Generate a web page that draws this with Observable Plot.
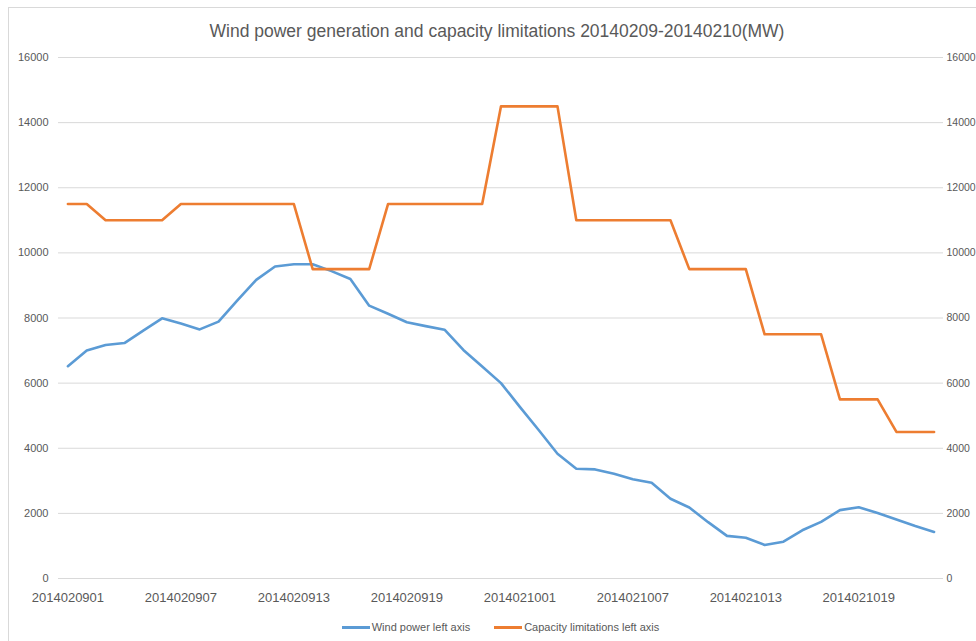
<!DOCTYPE html>
<html>
<head>
<meta charset="utf-8">
<script src="https://cdn.jsdelivr.net/npm/d3@7"></script>
<script src="https://cdn.jsdelivr.net/npm/@observablehq/plot@0.6"></script>
<style>
  html, body { margin: 0; padding: 0; background: #fff; overflow: hidden; }
  #wrap { position: relative; width: 976px; height: 641px; overflow: hidden; font-family: "Liberation Sans", Arial, sans-serif; }
  #frame { position: absolute; left: 8px; top: 7px; width: 1100px; height: 800px; border: 1px solid #d9d9d9; box-sizing: border-box; }
  #content { position: absolute; left: 0; top: 0; width: 1010px; }
  #title { width: 994px; padding-top: 20px; height: 22px; line-height: 22px; text-align: center; font-size: 17.5px; color: #595959; white-space: nowrap; }
  #legend { width: 1001px; padding-top: 12px; height: 14px; line-height: 14px; text-align: center; font-size: 11px; color: #595959; white-space: nowrap; }
  .item { display: inline-block; margin: 0 12px; }
  .sw { display: inline-block; width: 28px; height: 0; border-top: 3px solid; vertical-align: middle; margin-right: 2px; position: relative; top: -1px; }
  svg { display: block; overflow: visible; }
</style>
</head>
<body>
<div id="wrap">
  <div id="frame"></div>
  <div id="content">
    <div id="title">Wind power generation and capacity limitations 20140209-20140210(MW)</div>
    <div id="chart"></div>
    <div id="legend"></div>
  </div>
</div>
<script>
// Hourly categories 2014020901 ... 2014021023
const hours = [
  "2014020901","2014020902","2014020903","2014020904","2014020905","2014020906",
  "2014020907","2014020908","2014020909","2014020910","2014020911","2014020912",
  "2014020913","2014020914","2014020915","2014020916","2014020917","2014020918",
  "2014020919","2014020920","2014020921","2014020922","2014020923","2014020924",
  "2014021001","2014021002","2014021003","2014021004","2014021005","2014021006",
  "2014021007","2014021008","2014021009","2014021010","2014021011","2014021012",
  "2014021013","2014021014","2014021015","2014021016","2014021017","2014021018",
  "2014021019","2014021020","2014021021","2014021022","2014021023"
];
const windPower = [
  6520, 7000, 7170, 7230, 7610, 7990, 7830, 7650, 7890, 8540, 9170, 9580,
  9650, 9650, 9440, 9200, 8380, 8130, 7870, 7750, 7640, 7020, 6510, 6000,
  5270, 4560, 3830, 3370, 3350, 3220, 3050, 2940, 2450, 2180, 1730, 1310,
  1250, 1030, 1130, 1480, 1740, 2100, 2190, 2010, 1810, 1610, 1430
];
const capacity = [
  11500, 11500, 11000, 11000, 11000, 11000, 11500, 11500, 11500, 11500, 11500, 11500,
  11500, 9500, 9500, 9500, 9500, 11500, 11500, 11500, 11500, 11500, 11500, 14500,
  14500, 14500, 14500, 11000, 11000, 11000, 11000, 11000, 11000, 9500, 9500, 9500,
  9500, 7500, 7500, 7500, 7500, 5500, 5500, 5500, 4500, 4500, 4500
];
const xTickLabels = ["2014020901","2014020907","2014020913","2014020919","2014021001","2014021007","2014021013","2014021019"];
const yTicks = [0, 2000, 4000, 6000, 8000, 10000, 12000, 14000, 16000];
const seriesNames = ["Wind power left axis", "Capacity limitations left axis"];
const seriesColors = ["#5B9BD5", "#ED7D31"];

const windData = hours.map((h, i) => ({hour: h, value: windPower[i]}));
const capData = hours.map((h, i) => ({hour: h, value: capacity[i]}));

const chart = Plot.plot({
  width: 1010,
  height: 566,
  marginTop: 15,
  marginBottom: 30,
  marginLeft: 58,
  marginRight: 67,
  style: {fontFamily: "Liberation Sans, Arial, sans-serif", color: "#595959", background: "transparent", overflow: "visible"},
  x: {type: "point", domain: hours, padding: 0.5},
  y: {domain: [0, 16000]},
  marks: [
    Plot.gridY(yTicks, {stroke: "#d9d9d9", strokeOpacity: 1, strokeWidth: 1}),
    Plot.axisY(yTicks, {anchor: "left", tickSize: 0, tickPadding: 10, fontSize: 11, fill: "#595959", label: null, tickFormat: d => String(d)}),
    Plot.axisY(yTicks, {anchor: "right", tickSize: 0, tickPadding: 3, fontSize: 10.5, fill: "#595959", label: null, tickFormat: d => String(d)}),
    Plot.axisX(xTickLabels, {tickSize: 0, tickPadding: 14, fontSize: 13, fill: "#595959", label: null}),
    Plot.line(windData, {x: "hour", y: "value", stroke: seriesColors[0], strokeWidth: 2.6, strokeLinejoin: "round", strokeLinecap: "round"}),
    Plot.line(capData, {x: "hour", y: "value", stroke: seriesColors[1], strokeWidth: 2.6, strokeLinejoin: "round", strokeLinecap: "round"})
  ]
});
document.getElementById("chart").appendChild(chart);

const legend = document.getElementById("legend");
seriesNames.forEach((name, i) => {
  const item = document.createElement("span");
  item.className = "item";
  const sw = document.createElement("span");
  sw.className = "sw";
  sw.style.borderTopColor = seriesColors[i];
  item.appendChild(sw);
  item.appendChild(document.createTextNode(name));
  legend.appendChild(item);
});
</script>
</body>
</html>
